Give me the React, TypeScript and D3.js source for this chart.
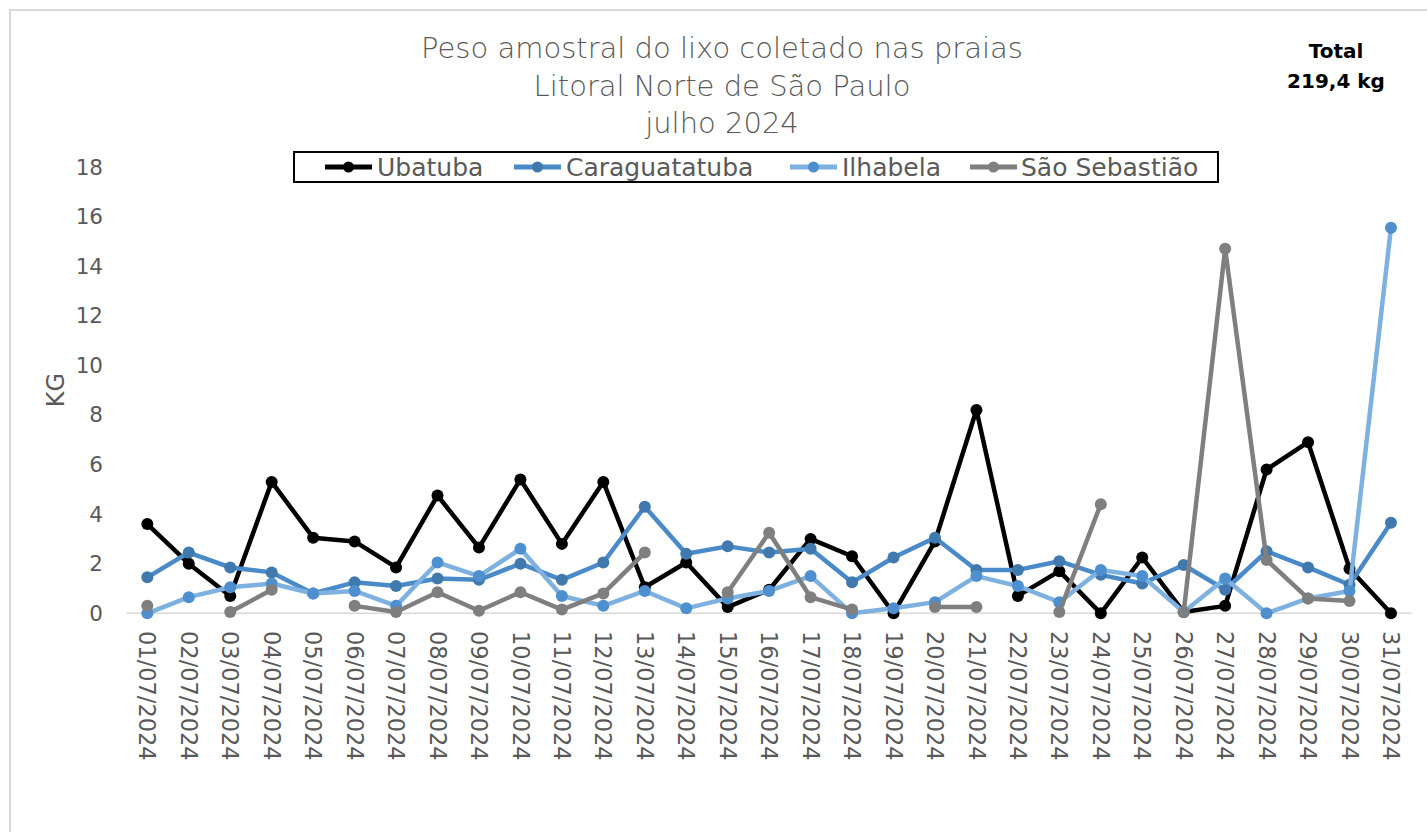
import React from "react";
import * as d3 from "d3";

const dates = [
  "01/07/2024","02/07/2024","03/07/2024","04/07/2024","05/07/2024","06/07/2024","07/07/2024","08/07/2024","09/07/2024","10/07/2024",
  "11/07/2024","12/07/2024","13/07/2024","14/07/2024","15/07/2024","16/07/2024","17/07/2024","18/07/2024","19/07/2024","20/07/2024",
  "21/07/2024","22/07/2024","23/07/2024","24/07/2024","25/07/2024","26/07/2024","27/07/2024","28/07/2024","29/07/2024","30/07/2024","31/07/2024",
];

const ubatuba: (number | null)[] = [
  3.6, 2.0, 0.7, 5.3, 3.05, 2.9, 1.85, 4.75, 2.65, 5.4,
  2.8, 5.3, 1.05, 2.05, 0.25, 0.95, 3.0, 2.3, 0.0, 2.9,
  8.2, 0.7, 1.7, 0.0, 2.25, 0.05, 0.3, 5.8, 6.9, 1.8, 0.0,
];
const caraguatatuba: (number | null)[] = [
  1.45, 2.45, 1.85, 1.65, 0.8, 1.25, 1.1, 1.4, 1.35, 2.0,
  1.35, 2.05, 4.3, 2.4, 2.7, 2.45, 2.6, 1.25, 2.25, 3.05,
  1.75, 1.75, 2.1, 1.55, 1.2, 1.95, 0.95, 2.5, 1.85, 1.15, 3.65,
];
const ilhabela: (number | null)[] = [
  0.0, 0.65, 1.05, 1.2, 0.8, 0.9, 0.3, 2.05, 1.5, 2.6,
  0.7, 0.3, 0.9, 0.2, 0.6, 0.9, 1.5, 0.0, 0.2, 0.45,
  1.5, 1.1, 0.45, 1.75, 1.5, 0.05, 1.4, 0.0, 0.6, 0.9, 15.55,
];
const saoSebastiao: (number | null)[] = [
  0.3, null, 0.05, 0.95, null, 0.3, 0.05, 0.85, 0.1, 0.85,
  0.15, 0.8, 2.45, null, 0.85, 3.25, 0.65, 0.15, null, 0.25,
  0.25, null, 0.05, 4.4, null, 0.05, 14.7, 2.15, 0.6, 0.5, null,
];

const yTicks = [0, 2, 4, 6, 8, 10, 12, 14, 16, 18];

const seriesNames = ["Ubatuba", "Caraguatatuba", "Ilhabela", "São Sebastião"];
const seriesData = [ubatuba, caraguatatuba, ilhabela, saoSebastiao];
const lineColors = ["#000000", "#4A8AC9", "#7EB0E0", "#7F7F7F"];
const markerColors = ["#000000", "#3F79AE", "#4E8FCF", "#7F7F7F"];

const titleLines = ["Peso amostral do lixo coletado nas praias", "Litoral Norte de São Paulo", "julho 2024"];

const FONT = "'DejaVu Sans', sans-serif";
const TXT = "#595959";

export default function App() {
  const W = 1427, H = 832;
  const x = d3.scaleBand<string>().domain(dates).range([126.6, 1411.7]);
  const xc = (d: string) => (x(d) as number) + x.bandwidth() / 2;
  const y = d3.scaleLinear().domain([0, 18]).range([613.3, 167]);

  const line = d3
    .line<number | null>()
    .defined((d) => d !== null)
    .x((_, i) => xc(dates[i]))
    .y((d) => y(d as number));

  const legendItems = [
    { lx: 325, tx: 377 },
    { lx: 514, tx: 566 },
    { lx: 790, tx: 842 },
    { lx: 970, tx: 1021 },
  ];

  return (
    <svg width={W} height={H} style={{ position: "absolute", left: 0, top: 0, background: "#fff" }} fontFamily={FONT}>
      <rect x={0} y={0} width={W} height={H} fill="#fff" />
      <path d={`M10,${H} L10,10 L${W},10`} fill="none" stroke="#D9D9D9" strokeWidth={2} />

      {titleLines.map((t, i) => (
        <text key={i} x={722} y={58 + i * 37.5} textAnchor="middle" fontSize={29} fill={TXT} fontWeight={300}>
          {t}
        </text>
      ))}

      <text x={1336} y={58} textAnchor="middle" fontSize={20} fontWeight="bold" fill="#000">Total</text>
      <text x={1336} y={88} textAnchor="middle" fontSize={20} fontWeight="bold" fill="#000">219,4 kg</text>

      {/* y axis */}
      {yTicks.map((t) => (
        <text key={t} x={103} y={y(t)} dy="0.35em" textAnchor="end" fontSize={21.5} fill={TXT}>
          {t}
        </text>
      ))}
      <text transform={`translate(64,390) rotate(-90)`} textAnchor="middle" fontSize={24} fill={TXT}>KG</text>

      {/* baseline */}
      <line x1={126.6} x2={1411.7} y1={y(0)} y2={y(0)} stroke="#D9D9D9" strokeWidth={1.5} />

      {/* x labels */}
      {dates.map((d) => (
        <text key={d} transform={`translate(${xc(d)},631) rotate(90)`} dy="0.35em" textAnchor="start" fontSize={22.5} fill={TXT}>
          {d}
        </text>
      ))}

      {/* series */}
      {seriesData.map((s, si) => (
        <g key={si}>
          <path d={line(s) || ""} fill="none" stroke={lineColors[si]} strokeWidth={4.5} strokeLinejoin="round" />
          {s.map((v, i) =>
            v === null ? null : (
              <circle key={i} cx={xc(dates[i])} cy={y(v)} r={6} fill={markerColors[si]} />
            )
          )}
        </g>
      ))}

      {/* legend */}
      <rect x={294} y={152} width={924} height={30} fill="#fff" stroke="#000" strokeWidth={2} />
      {legendItems.map((it, i) => (
        <g key={i}>
          <line x1={it.lx} x2={it.lx + 47} y1={167} y2={167} stroke={lineColors[i]} strokeWidth={5} />
          <circle cx={it.lx + 23.5} cy={167} r={5.5} fill={markerColors[i]} />
          <text x={it.tx} y={167} dy="0.35em" fontSize={25} fill={TXT}>{seriesNames[i]}</text>
        </g>
      ))}
    </svg>
  );
}
